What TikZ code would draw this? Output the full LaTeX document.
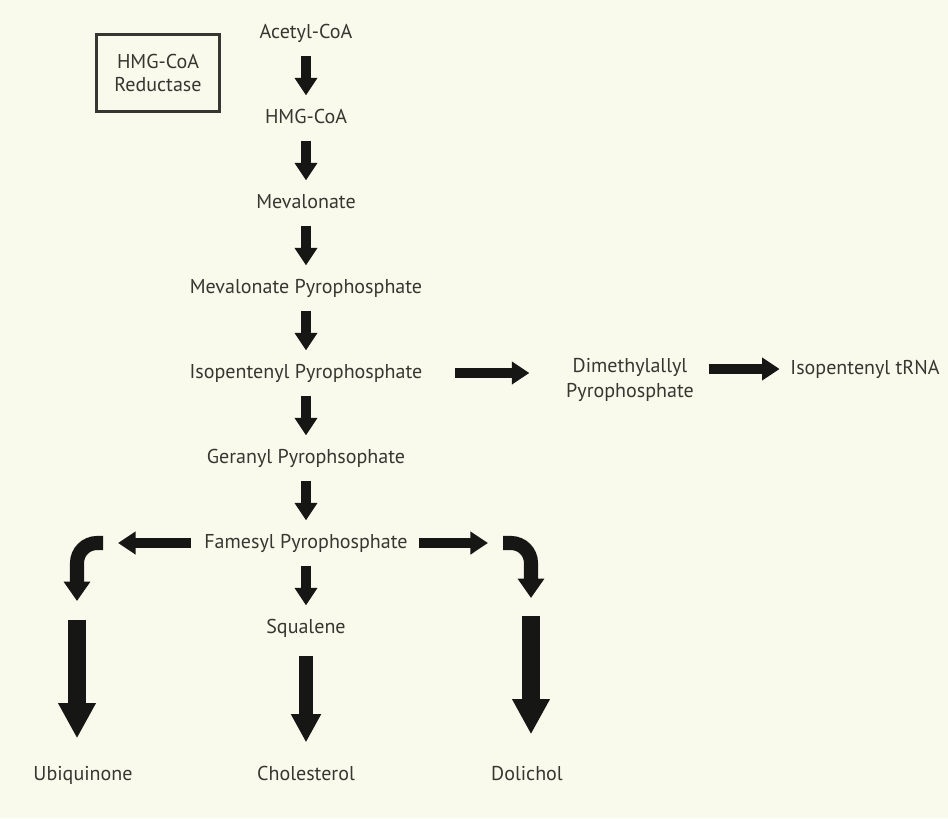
\documentclass[tikz,border=0pt]{standalone}
\usepackage{fontspec}
\setmainfont{PT Sans}
\usepackage{xcolor}
\usepackage{tikz}
\usetikzlibrary{arrows.meta, positioning}
\definecolor{paper}{RGB}{249,249,236}
\definecolor{ink}{RGB}{55,55,50}
\definecolor{arrowink}{RGB}{22,22,20}
\tikzstyle{metab} = [text=ink, font=\fontsize{11.4}{13.5}\selectfont, align=center, inner sep=2pt, text height=1.6ex, text depth=.4ex]
\tikzstyle{metabtwo} = [text=ink, font=\fontsize{11.4}{14.5}\selectfont, align=center, inner sep=2pt]
\tikzstyle{enzyme} = [rectangle, draw=ink, line width=1.2pt, text=ink, font=\fontsize{11.4}{13.5}\selectfont, align=center, minimum width=2.46cm, minimum height=1.54cm]
\tikzstyle{fatarrow} = [-{Triangle[width=12.5pt, length=10pt]}, line width=5.6pt, draw=arrowink, shorten <=.2cm, shorten >=.2cm]
\tikzstyle{bigarrow} = [-{Triangle[width=16pt, length=16pt]}, line width=8pt, draw=arrowink]
\tikzstyle{longarrow} = [-{Triangle[width=20pt, length=20pt]}, line width=10.5pt, draw=arrowink]
\tikzstyle{bentarrow} = [-{Triangle[width=14.5pt, length=11pt]}, line width=8pt, draw=arrowink, rounded corners=.4cm]

\begin{document}
\begin{tikzpicture}[node distance=1.7cm, on grid]

\fill[paper] (0,0) rectangle (18.96,-16.36);
\useasboundingbox (0,0) rectangle (18.96,-16.36);

% main chain, top to bottom
\node[metab] (acetyl) at (6.12,-0.66) {Acetyl-CoA};
\node[metab, below=of acetyl] (hmg) {HMG-CoA};
\node[metab, below=of hmg] (meval) {Mevalonate};
\node[metab, below=of meval] (mevalpp) {Mevalonate Pyrophosphate};
\node[metab, below=of mevalpp] (isopp) {Isopentenyl Pyrophosphate};
\node[metab, below=of isopp] (geranyl) {Geranyl Pyrophsophate};
\node[metab, below=of geranyl] (famesyl) {Famesyl Pyrophosphate};
\node[metab, below=of famesyl] (squalene) {Squalene};
\node[metab, below=2.94cm of squalene] (cholesterol) {Cholesterol};

% enzyme box
\node[enzyme, below left=0.8cm and 2.96cm of acetyl] (reductase) {HMG-CoA\\Reductase};

% side branch to tRNA
\node[metabtwo, below right=0.14cm and 6.48cm of isopp] (dimethyl) {Dimethylallyl\\Pyrophosphate};
\node[metab, above right=0.22cm and 4.7cm of dimethyl] (trna) {Isopentenyl tRNA};

% end products
\node[metab, left=4.46cm of cholesterol] (ubiquinone) {Ubiquinone};
\node[metab, right=4.42cm of cholesterol] (dolichol) {Dolichol};

% turning points of the bent arrows
\coordinate[left=4.06cm of famesyl] (ubibend);
\coordinate[below left=1.16cm and 4.58cm of famesyl] (ubitip);
\coordinate[right=3.94cm of famesyl] (dolbend);
\coordinate[below right=1.1cm and 4.5cm of famesyl] (doltip);

% vertical flow arrows
\draw[fatarrow] (acetyl) -- (hmg);
\draw[fatarrow] (hmg) -- (meval);
\draw[fatarrow] (meval) -- (mevalpp);
\draw[fatarrow] (mevalpp) -- (isopp);
\draw[fatarrow] (isopp) -- (geranyl);
\draw[fatarrow] (geranyl) -- (famesyl);
\draw[fatarrow] (famesyl) -- (squalene);
\draw[bigarrow, shorten <=.3cm, shorten >=.4cm] (squalene) -- (cholesterol);

% horizontal arrows
\draw[fatarrow, shorten <=.58cm, shorten >=.66cm] (isopp) -- (isopp -| dimethyl.west);
\draw[fatarrow, shorten <=.22cm, shorten >=.14cm] (dimethyl.east |- trna) -- (trna);
\draw[fatarrow, shorten <=.2cm, shorten >=.3cm] (famesyl) -- (ubibend);
\draw[fatarrow, shorten <=.16cm, shorten >=.3cm] (famesyl) -- (dolbend);

% bent arrows and long arrows to the end products
\draw[bentarrow] (ubibend) -| (ubitip);
\draw[bentarrow] (dolbend) -| (doltip);
\draw[longarrow, shorten <=.38cm, shorten >=.48cm] (ubitip) -- (ubitip |- ubiquinone.north);
\draw[longarrow, shorten <=.36cm, shorten >=.56cm] (doltip) -- (doltip |- dolichol.north);

\end{tikzpicture}
\end{document}
